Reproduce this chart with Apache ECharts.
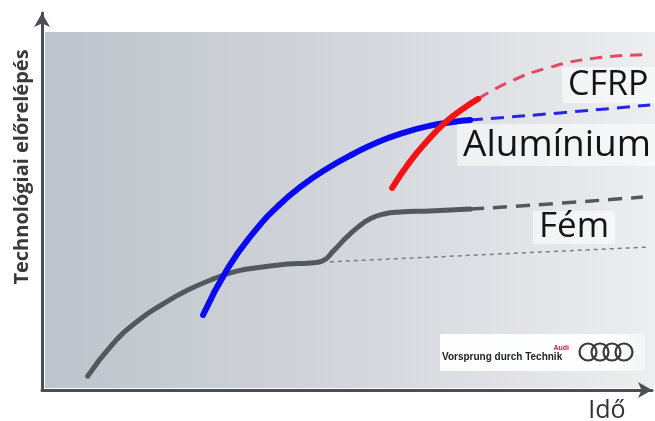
<!DOCTYPE html>
<html>
<head>
<meta charset="utf-8">
<script src="https://cdn.jsdelivr.net/npm/echarts@6/dist/echarts.min.js"></script>
<style>
  html, body { margin: 0; padding: 0; background: #ffffff; }
  #chart { width: 655px; height: 421px; }
</style>
</head>
<body>
<div id="chart"></div>
<script>
// Technology progress curves over time (schematic S-curves, 0-100 scale)
const axisTitleY = 'Technológiai előrelépés';
const axisTitleX = 'Idő';
const seriesNames = ['CFRP', 'Alumínium', 'Fém'];

// [time, progress]
const femSolid = [[7.5, 3.7], [11.6, 12.2], [15.7, 18.3], [19.8, 22.8], [23.9, 26.5], [28.0, 29.4],
  [32.1, 31.6], [36.2, 32.6], [40.3, 33.4], [43.9, 33.7], [45.9, 34.2], [47.9, 37.1], [49.8, 40.3],
  [51.8, 43.2], [53.8, 45.4], [56.1, 46.7], [58.7, 47.2], [63.6, 47.5], [70.2, 48.0]];
const femForecast = [[70.2, 48.0], [85.4, 49.6], [98.5, 51.2]];
const femBaseline = [[47.2, 34.0], [99.2, 37.9]];

const aluSolid = [[26.4, 19.9], [30.5, 32.4], [34.6, 41.6], [38.7, 48.8], [42.8, 54.4], [46.9, 58.9],
  [51.0, 62.6], [55.1, 65.8], [59.2, 68.2], [63.3, 70.0], [67.4, 71.1], [70.2, 71.6]];
const aluForecast = [[70.2, 71.6], [84.9, 73.5], [99.7, 75.6]];

const cfrpSolid = [[57.4, 53.6], [60.3, 60.5], [63.3, 66.3], [66.2, 71.1], [69.2, 74.8], [71.5, 77.2]];
const cfrpForecast = [[71.5, 77.2], [76.2, 81.4], [82.8, 85.4], [91.0, 88.1], [98.5, 88.9]];

const brandTagline = 'Vorsprung durch Technik';
const brandName = 'Audi';

const chart = echarts.init(document.getElementById('chart'), null, { renderer: 'canvas' });

const axisLineStyle = { color: '#4a4f55', width: 3 };
const labelFont = '"Open Sans", "Noto Sans", sans-serif';

function line(data, color, width, type, z) {
  return {
    type: 'line', data: data, smooth: 0.5, symbol: 'none', z: z || 2,
    lineStyle: { color: color, width: width, type: type || 'solid', cap: 'round', join: 'round' },
    silent: true
  };
}

function dashedLine(data, color, width, dash, z) {
  const s = line(data, color, width, dash, z);
  s.lineStyle.cap = 'butt';
  return s;
}

function seriesLabel(text, x, y, boxW, boxH, size) {
  return {
    type: 'group', x: x, y: y, z: 5,
    children: [
      { type: 'rect', shape: { x: 0, y: 0, width: boxW, height: boxH },
        style: { fill: 'rgba(255,255,255,0.55)' } },
      { type: 'text', x: 6, y: boxH / 2,
        style: { text: text, font: size + 'px ' + labelFont, fill: '#141414',
                 verticalAlign: 'middle', align: 'left' } }
    ]
  };
}

const rings = [0, 1, 2, 3].map(i => ({
  type: 'circle', z: 6,
  shape: { cx: 588 + i * 12, cy: 352, r: 8.5 },
  style: { fill: 'none', stroke: '#3a3a3a', lineWidth: 2.2 }
}));

chart.setOption({
  animation: false,
  backgroundColor: '#ffffff',
  grid: { left: 42, right: 3, top: 13, bottom: 31 },
  xAxis: {
    type: 'value', min: 0, max: 100,
    axisLine: { show: true, onZero: false, symbol: ['none', 'arrow'], symbolSize: [12, 14], lineStyle: axisLineStyle },
    axisTick: { show: false }, axisLabel: { show: false }, splitLine: { show: false }
  },
  yAxis: {
    type: 'value', min: 0, max: 100,
    axisLine: { show: true, onZero: false, symbol: ['none', 'arrow'], symbolSize: [12, 14], lineStyle: axisLineStyle },
    axisTick: { show: false }, axisLabel: { show: false }, splitLine: { show: false }
  },
  graphic: [
    { type: 'rect', z: -10, shape: { x: 45, y: 32, width: 610, height: 356 },
      style: { fill: new echarts.graphic.LinearGradient(0, 0, 1, 0, [
        { offset: 0, color: '#bec4cc' },
        { offset: 0.5, color: '#d3d6db' },
        { offset: 1, color: '#eceef0' }
      ]) } },
    { type: 'text', z: 5, x: 22, y: 167, rotation: Math.PI / 2,
      style: { text: axisTitleY, font: 'bold 20px "Open Sans", sans-serif', fill: '#3a3a3a',
               align: 'center', verticalAlign: 'middle' } },
    { type: 'text', z: 5, x: 607, y: 411,
      style: { text: axisTitleX, font: '25px ' + labelFont, fill: '#333333',
               align: 'center', verticalAlign: 'middle' } },
    seriesLabel(seriesNames[0], 562, 67, 93, 36, 34),
    seriesLabel(seriesNames[1], 457, 124, 198, 42, 37),
    seriesLabel(seriesNames[2], 533, 211, 82, 33, 35),
    { type: 'rect', z: 5, shape: { x: 440, y: 334, width: 205, height: 37 },
      style: { fill: new echarts.graphic.LinearGradient(0, 0, 1, 0, [
        { offset: 0, color: 'rgba(255,255,255,0.95)' },
        { offset: 0.85, color: 'rgba(255,255,255,0.95)' },
        { offset: 1, color: 'rgba(255,255,255,0.4)' }
      ]) } },
    { type: 'text', z: 6, x: 442, y: 357,
      style: { text: brandTagline, font: 'bold 10px "Liberation Sans", sans-serif', fill: '#222',
               align: 'left', verticalAlign: 'middle' } },
    { type: 'text', z: 6, x: 569, y: 348,
      style: { text: brandName, font: 'bold 7px "Liberation Sans", sans-serif', fill: '#d4213d',
               align: 'right', verticalAlign: 'middle' } }
  ].concat(rings),
  series: [
    dashedLine(femBaseline, '#7a7e82', 1.5, [4, 4], 1),
    dashedLine(femForecast, '#53585d', 3.5, [14, 9], 2),
    dashedLine(aluForecast, '#2626e0', 3, [13, 8], 2),
    dashedLine(cfrpForecast, '#e44862', 3, [12, 8], 2),
    line(femSolid, '#53585d', 5, 'solid', 3),
    line(aluSolid, '#0a0af2', 6, 'solid', 3),
    line(cfrpSolid, '#f21414', 6, 'solid', 4)
  ]
});
</script>
</body>
</html>
